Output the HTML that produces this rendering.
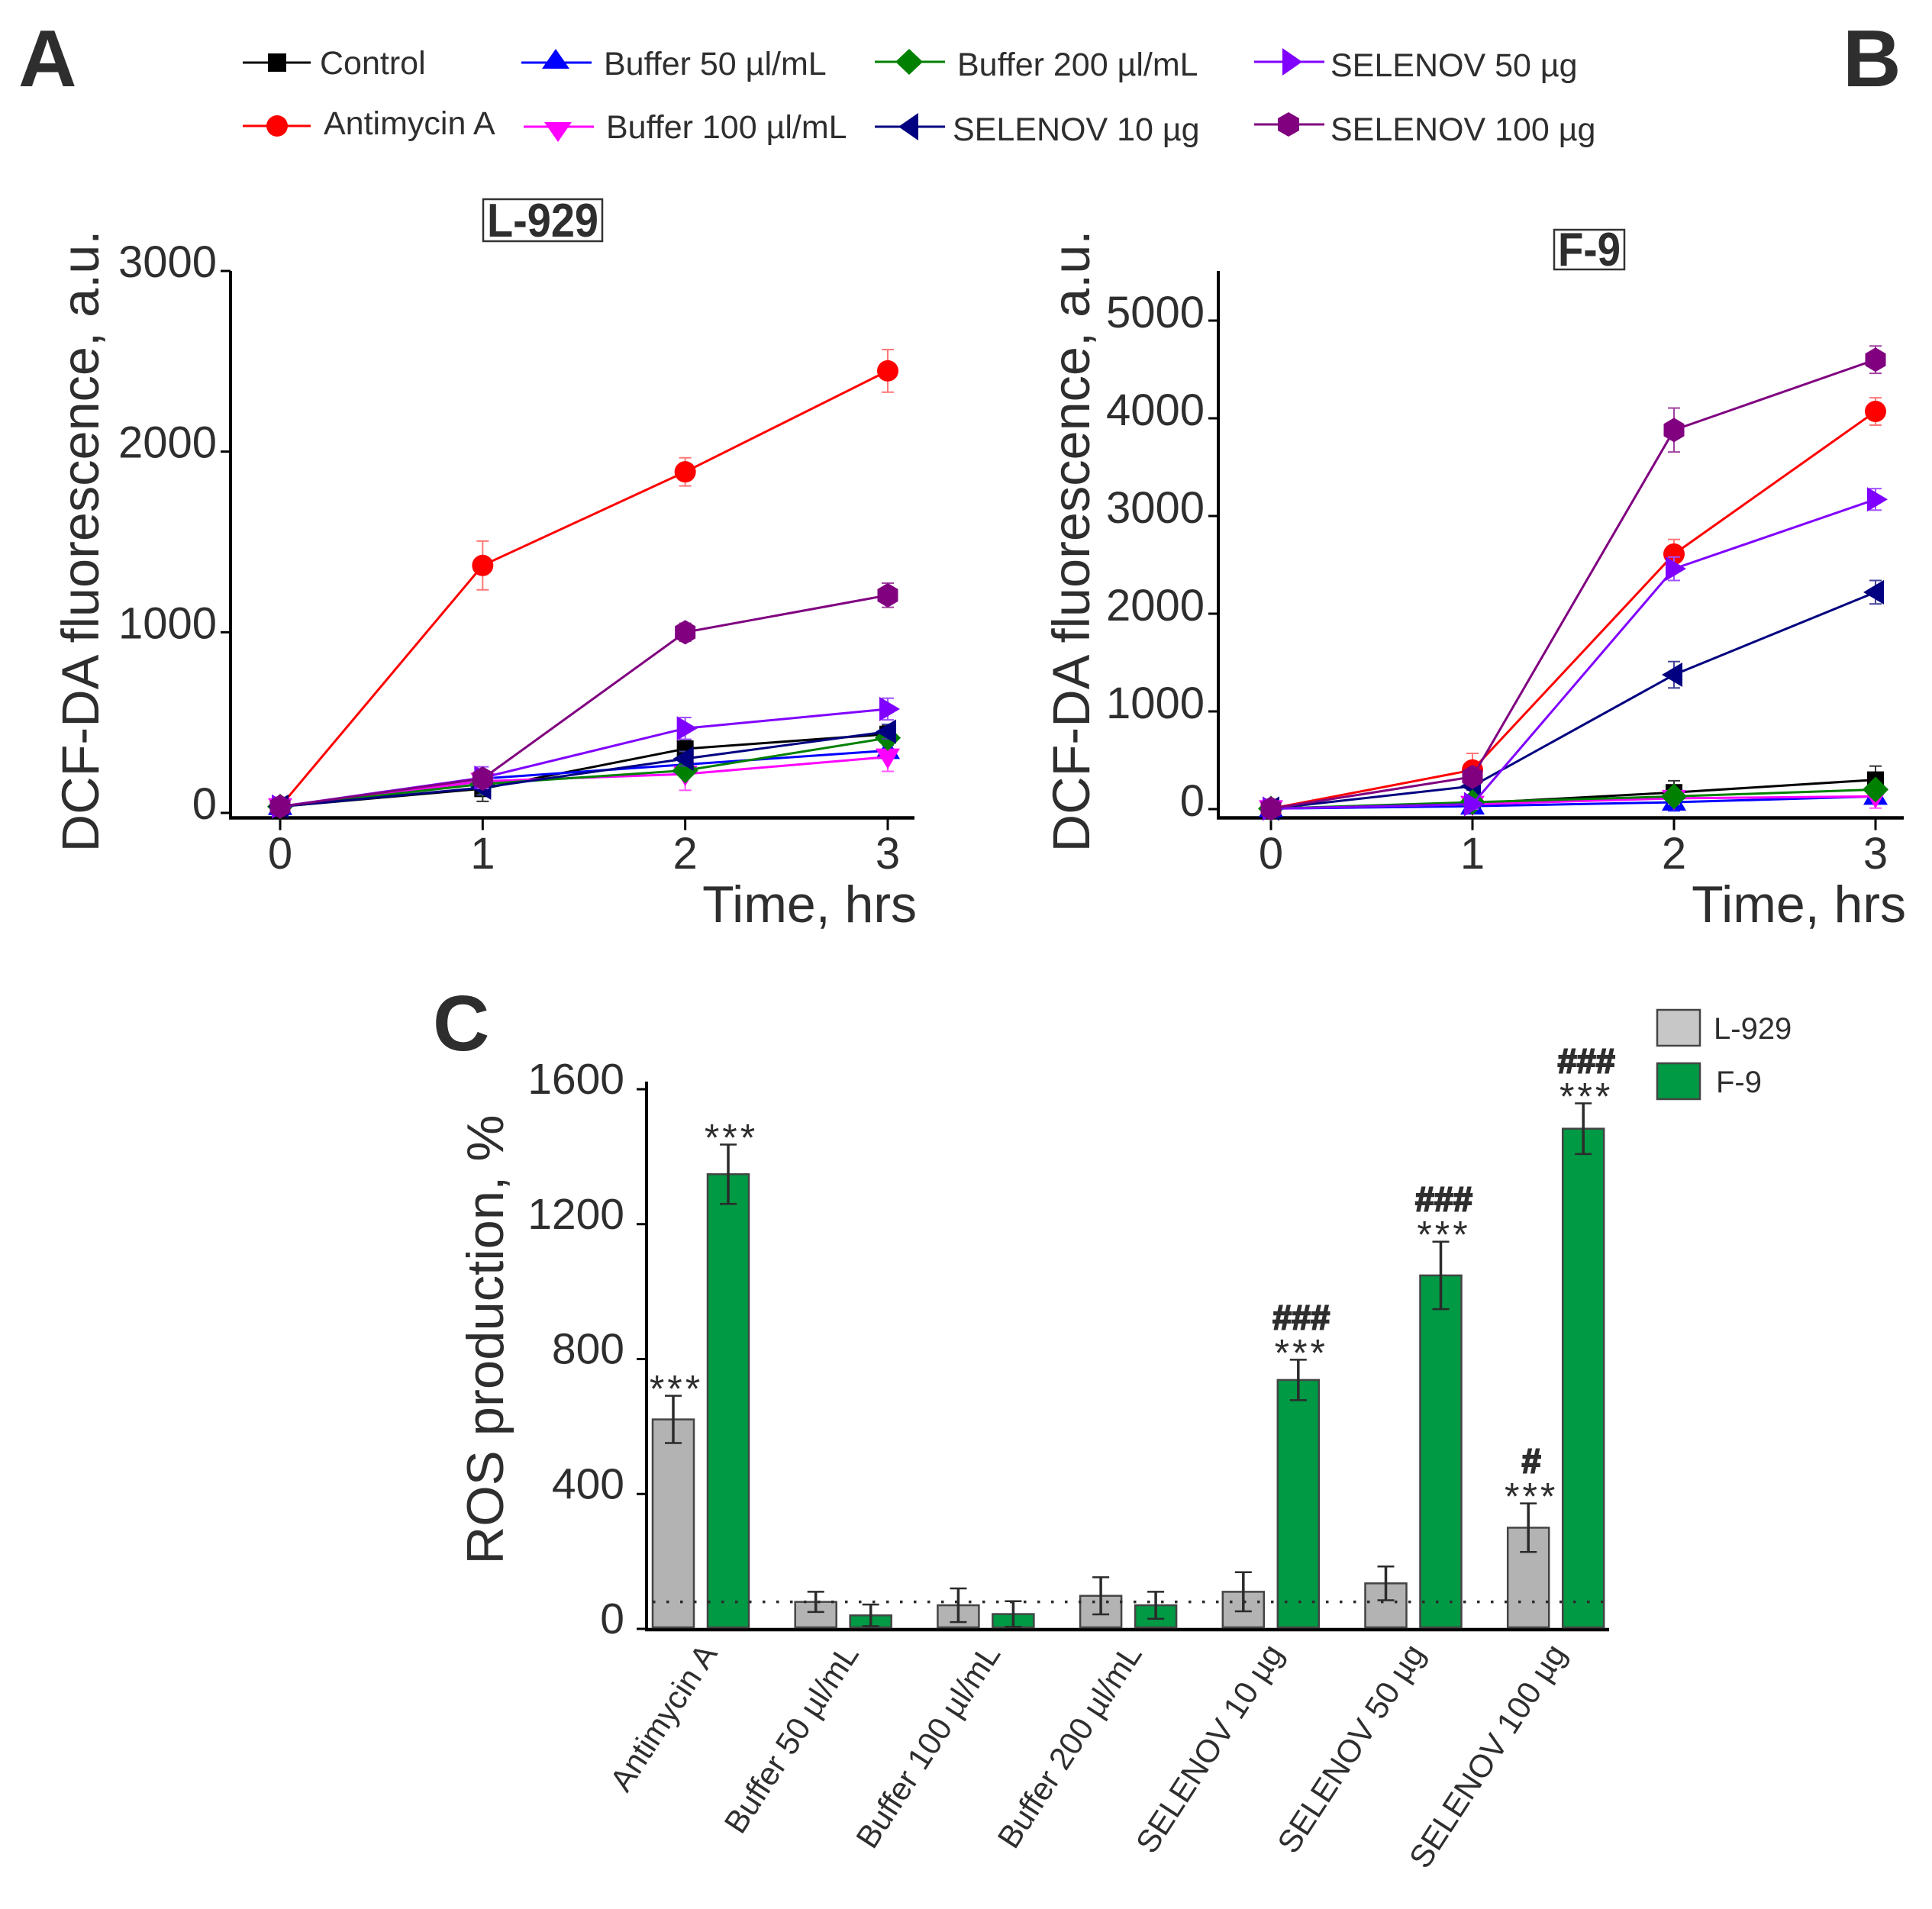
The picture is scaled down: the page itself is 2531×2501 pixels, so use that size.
<!DOCTYPE html>
<html lang="en">
<head>
<meta charset="utf-8">
<title>ROS production in L-929 and F-9 cells</title>
<style>
html,body{margin:0;padding:0;background:#fff;}
svg{display:block;}
text{font-family:"Liberation Sans",Arial,sans-serif;fill:#2e2e2e;}
</style>
</head>
<body>
<svg id="fig" xmlns="http://www.w3.org/2000/svg" width="2531" height="2501" viewBox="0 0 2531 2501">
  <text x="24" y="113" font-size="106" font-weight="bold">A</text>
  <text x="2414" y="113" font-size="106" font-weight="bold">B</text>
  <text x="567" y="1376" font-size="103" font-weight="bold">C</text>

  <g>
    <g>
      <line x1="318" y1="82" x2="407" y2="82" stroke="#000" stroke-width="3"/>
      <rect x="351" y="70" width="24" height="24" fill="#000"/>
      <text x="419" y="97" font-size="43">Control</text>
    </g>
    <g>
      <line x1="318" y1="165" x2="407" y2="165" stroke="#f00" stroke-width="3"/>
      <circle cx="363" cy="165" r="14" fill="#f00"/>
      <text x="424" y="176" font-size="43">Antimycin A</text>
    </g>
    <g>
      <line x1="683" y1="82" x2="775" y2="82" stroke="#00f" stroke-width="3"/>
      <polygon points="728,64 746,90 710,90" fill="#00f"/>
      <text x="791" y="98" font-size="43">Buffer 50 µl/mL</text>
    </g>
    <g>
      <line x1="686" y1="166" x2="778" y2="166" stroke="#f0f" stroke-width="3"/>
      <polygon points="731,186 749,160 713,160" fill="#f0f"/>
      <text x="794" y="181" font-size="43">Buffer 100 µl/mL</text>
    </g>
    <g>
      <line x1="1146" y1="81" x2="1238" y2="81" stroke="#008000" stroke-width="3"/>
      <polygon points="1191,64 1209,81 1191,98 1173,81" fill="#008000"/>
      <text x="1254" y="99" font-size="43">Buffer 200 µl/mL</text>
    </g>
    <g>
      <line x1="1146" y1="166" x2="1238" y2="166" stroke="#000080" stroke-width="3"/>
      <polygon points="1177,166 1203,148 1203,184" fill="#000080"/>
      <text x="1248" y="184" font-size="43">SELENOV 10 µg</text>
    </g>
    <g>
      <line x1="1643" y1="81" x2="1735" y2="81" stroke="#8000ff" stroke-width="3"/>
      <polygon points="1706,81 1680,63 1680,99" fill="#8000ff"/>
      <text x="1743" y="100" font-size="43">SELENOV 50 µg</text>
    </g>
    <g>
      <line x1="1643" y1="163" x2="1735" y2="163" stroke="#800080" stroke-width="3"/>
      <polygon points="1688,147 1702,155 1702,171 1688,179 1674,171 1674,155" fill="#800080"/>
      <text x="1743" y="184" font-size="43">SELENOV 100 µg</text>
    </g>
  </g>

  <g>
    <rect x="633" y="261" width="156" height="55" fill="#fff" stroke="#333" stroke-width="2.500"/>
    <text x="711" y="310" font-size="62" font-weight="bold" text-anchor="middle" textLength="146" lengthAdjust="spacingAndGlyphs">L-929</text>
  </g>
  <g>
    <rect x="2036" y="301" width="92" height="52" fill="#fff" stroke="#333" stroke-width="2.500"/>
    <text x="2082" y="348" font-size="62" font-weight="bold" text-anchor="middle" textLength="82" lengthAdjust="spacingAndGlyphs">F-9</text>
  </g>

  <text transform="translate(129 709) rotate(-90)" font-size="68.500" text-anchor="middle">DCF-DA fluorescence, a.u.</text>
  <text transform="translate(1427 709) rotate(-90)" font-size="68.500" text-anchor="middle">DCF-DA fluorescence, a.u.</text>
  <text x="1201" y="1208" font-size="68" text-anchor="end">Time, hrs</text>
  <text x="2497" y="1208" font-size="68" text-anchor="end">Time, hrs</text>
  <text transform="translate(659 1755) rotate(-90)" font-size="68" text-anchor="middle" textLength="589" lengthAdjust="spacingAndGlyphs">ROS production, %</text>

  <g>
    <g>
      <rect x="2171" y="1323" width="56" height="47" fill="#c6c7c6" stroke="#444" stroke-width="2.500"/>
      <text x="2245" y="1361" font-size="40">L-929</text>
    </g>
    <g>
      <rect x="2171" y="1393" width="56" height="47" fill="#009944" stroke="#444" stroke-width="2.500"/>
      <text x="2248" y="1431" font-size="40">F-9</text>
    </g>
  </g>
</svg>
<script>
// Shared time axis
const timeCategories = [0, 1, 2, 3];
const xTickLabels = ["0", "1", "2", "3"];
const yTicksA = [0, 1000, 2000, 3000];
const yTicksB = [0, 1000, 2000, 3000, 4000, 5000];
const yTicksC = [0, 400, 800, 1200, 1600];

// Panel A (L-929) means
const a_control   = [35, 134, 355, 436];
const a_antimycin = [35, 1370, 1888, 2447];
const a_buffer50  = [35, 190, 268, 345];
const a_buffer100 = [35, 175, 215, 310];
const a_buffer200 = [35, 160, 235, 415];
const a_selenov10 = [35, 140, 300, 450];
const a_selenov50 = [35, 195, 468, 575];
const a_selenov100 = [35, 190, 1000, 1205];
// Panel A errors
const aErr_control   = [20, 70, 50, 50];
const aErr_antimycin = [20, 135, 78, 118];
const aErr_buffer50  = [20, 30, 30, 30];
const aErr_buffer100 = [20, 30, 90, 80];
const aErr_buffer200 = [20, 30, 30, 30];
const aErr_selenov10 = [20, 40, 40, 40];
const aErr_selenov50 = [20, 60, 60, 60];
const aErr_selenov100 = [20, 40, 50, 67];

// Panel B (F-9) means
const b_control   = [5, 60, 170, 300];
const b_antimycin = [5, 400, 2610, 4070];
const b_buffer50  = [5, 30, 70, 130];
const b_buffer100 = [5, 50, 110, 130];
const b_buffer200 = [5, 70, 130, 200];
const b_selenov10 = [5, 235, 1375, 2220];
const b_selenov50 = [5, 50, 2460, 3170];
const b_selenov100 = [5, 330, 3880, 4600];
// Panel B errors
const bErr_control   = [10, 30, 120, 140];
const bErr_antimycin = [10, 170, 150, 140];
const bErr_buffer50  = [10, 30, 90, 60];
const bErr_buffer100 = [10, 50, 60, 120];
const bErr_buffer200 = [10, 30, 50, 50];
const bErr_selenov10 = [10, 40, 135, 120];
const bErr_selenov50 = [10, 50, 120, 110];
const bErr_selenov100 = [10, 50, 225, 140];

// Panel C
const barCategories = ["Antimycin A", "Buffer 50 µl/mL", "Buffer 100 µl/mL", "Buffer 200 µl/mL", "SELENOV 10 µg", "SELENOV 50 µg", "SELENOV 100 µg"];
const l929Values = [621, 80, 70, 98, 110, 135, 300];
const f9Values   = [1348, 40, 44, 70, 738, 1048, 1483];
const l929Errors = [70, 30, 50, 55, 58, 50, 72];
const f9Errors   = [88, 32, 38, 40, 60, 100, 75];
const l929Stars  = ["***", "", "", "", "", "", "***"];
const f9Stars    = ["***", "", "", "", "***", "***", "***"];
const l929Hashes = ["", "", "", "", "", "", "#"];
const f9Hashes   = ["", "", "", "", "###", "###", "###"];
const controlLevel = [80];

const NS = "http://www.w3.org/2000/svg";
const fig = document.getElementById("fig");
function mk(parent, tag, attrs, txt) {
  const el = document.createElementNS(NS, tag);
  for (const k in attrs) el.setAttribute(k, attrs[k]);
  if (txt !== undefined) el.textContent = txt;
  parent.appendChild(el);
  return el;
}

// Axis functions
function xA(t) { return 367 + t * (1163 - 367) / 3; }
function yA(v) { return 1065 - v * (1065 - 355) / 3000; }
function xB(t) { return 1665 + t * (2457 - 1665) / 3; }
function yB(v) { return 1060 - v * (1060 - 420) / 5000; }
function yC(v) { return 2134 - v * (2134 - 1427) / 1600; }
function xCGroup(i) { return 918 + i * 186.7; }

function markerPoints(shape, cx, cy) {
  if (shape === "up") return [[cx, cy - 16], [cx + 16, cy + 11], [cx - 16, cy + 11]];
  if (shape === "down") return [[cx, cy + 16], [cx + 16, cy - 11], [cx - 16, cy - 11]];
  if (shape === "left") return [[cx - 16, cy], [cx + 11, cy - 16], [cx + 11, cy + 16]];
  if (shape === "right") return [[cx + 16, cy], [cx - 11, cy - 16], [cx - 11, cy + 16]];
  if (shape === "diamond") return [[cx, cy - 17], [cx + 17, cy], [cx, cy + 17], [cx - 17, cy]];
  if (shape === "hexagon") return [[cx, cy - 16], [cx + 13.500, cy - 8], [cx + 13.500, cy + 8], [cx, cy + 16], [cx - 13.500, cy + 8], [cx - 13.500, cy - 8]];
  return [];
}

function drawMarker(g, shape, color, cx, cy) {
  if (shape === "square") return mk(g, "rect", { x: cx - 11, y: cy - 11, width: 22, height: 22, fill: color });
  if (shape === "circle") return mk(g, "circle", { cx: cx, cy: cy, r: 14, fill: color });
  return mk(g, "polygon", { points: markerPoints(shape, cx, cy).map(function (p) { return p.join(","); }).join(" "), fill: color });
}

function drawSeries(panel, name, values, errors, color, errColor, shape, xf, yf) {
  const g = mk(fig, "g", {});
  
  
  timeCategories.forEach(function (t, i) {
    const x = xf(t);
    mk(g, "line", { x1: x, x2: x, y1: yf(values[i] - errors[i]), y2: yf(values[i] + errors[i]), stroke: errColor, "stroke-width": 2 });
    mk(g, "line", { x1: x - 8, x2: x + 8, y1: yf(values[i] + errors[i]), y2: yf(values[i] + errors[i]), stroke: errColor, "stroke-width": 2 });
    mk(g, "line", { x1: x - 8, x2: x + 8, y1: yf(values[i] - errors[i]), y2: yf(values[i] - errors[i]), stroke: errColor, "stroke-width": 2 });
  });
  const pts = timeCategories.map(function (t, i) { return xf(t) + "," + yf(values[i]); }).join(" ");
  mk(g, "polyline", { points: pts, fill: "none", stroke: color, "stroke-width": 3 });
  timeCategories.forEach(function (t, i) {
    const m = drawMarker(g, shape, color, xf(t), yf(values[i]));
    
    
  });
}

function drawAxes(panel, axisX, topY, bottomY, rightX, xf, yf, yTicks, xTicks, labelEndX, xLabelY, fontSize, labelOffset) {
  const g = mk(fig, "g", {});
  
  
  const yAxis = mk(g, "line", { x1: axisX, x2: axisX, y1: topY, y2: bottomY + 2, stroke: "#000", "stroke-width": 4 });
  
  
  const xAxis = mk(g, "line", { x1: axisX - 2, x2: rightX, y1: bottomY, y2: bottomY, stroke: "#000", "stroke-width": 4.500 });
  
  
  yTicks.forEach(function (v) {
    mk(g, "line", { x1: axisX - 13, x2: axisX, y1: yf(v), y2: yf(v), stroke: "#000", "stroke-width": 3 });
    const lab = mk(g, "text", { x: labelEndX, y: yf(v) + labelOffset, "font-size": fontSize, "text-anchor": "end" }, String(v));
    
    
  });
  if (xTicks) {
    xTicks.forEach(function (t, i) {
      mk(g, "line", { x1: xf(t), x2: xf(t), y1: bottomY, y2: bottomY + 16, stroke: "#000", "stroke-width": 3 });
      const lab = mk(g, "text", { x: xf(t), y: xLabelY, "font-size": 58, "text-anchor": "middle" }, xTickLabels[i]);
      
      
    });
  }
}

drawAxes("panel-a", 302, 355, 1071.500, 1198, xA, yA, yTicksA, timeCategories, 284, 1138, 58, 8);
drawAxes("panel-b", 1596, 355, 1071.500, 2494, xB, yB, yTicksB, timeCategories, 1578, 1138, 58, 9);

drawSeries("panel-a", "control", a_control, aErr_control, "#000", "#333", "square", xA, yA);
drawSeries("panel-a", "antimycin-a", a_antimycin, aErr_antimycin, "#f00", "#f77", "circle", xA, yA);
drawSeries("panel-a", "buffer-50", a_buffer50, aErr_buffer50, "#00f", "#55f", "up", xA, yA);
drawSeries("panel-a", "buffer-100", a_buffer100, aErr_buffer100, "#f0f", "#f5f", "down", xA, yA);
drawSeries("panel-a", "buffer-200", a_buffer200, aErr_buffer200, "#008000", "#4a4", "diamond", xA, yA);
drawSeries("panel-a", "selenov-10", a_selenov10, aErr_selenov10, "#000080", "#449", "left", xA, yA);
drawSeries("panel-a", "selenov-50", a_selenov50, aErr_selenov50, "#8000ff", "#a050ff", "right", xA, yA);
drawSeries("panel-a", "selenov-100", a_selenov100, aErr_selenov100, "#800080", "#a040a0", "hexagon", xA, yA);

drawSeries("panel-b", "control", b_control, bErr_control, "#000", "#333", "square", xB, yB);
drawSeries("panel-b", "antimycin-a", b_antimycin, bErr_antimycin, "#f00", "#f77", "circle", xB, yB);
drawSeries("panel-b", "selenov-10", b_selenov10, bErr_selenov10, "#000080", "#449", "left", xB, yB);
drawSeries("panel-b", "buffer-50", b_buffer50, bErr_buffer50, "#00f", "#55f", "up", xB, yB);
drawSeries("panel-b", "buffer-100", b_buffer100, bErr_buffer100, "#f0f", "#f5f", "down", xB, yB);
drawSeries("panel-b", "buffer-200", b_buffer200, bErr_buffer200, "#008000", "#4a4", "diamond", xB, yB);
drawSeries("panel-b", "selenov-50", b_selenov50, bErr_selenov50, "#8000ff", "#a050ff", "right", xB, yB);
drawSeries("panel-b", "selenov-100", b_selenov100, bErr_selenov100, "#800080", "#a040a0", "hexagon", xB, yB);

// Panel C
drawAxes("panel-c", 847, 1417, 2135, 2108, null, yC, yTicksC, null, 818, 0, 57, 6);

function drawBar(name, values, errors, stars, hashes, i, cx, fill) {
  const v = values[i];
  const g = mk(fig, "g", {});
  
  
  mk(g, "rect", { x: cx - 27, y: yC(v), width: 54, height: yC(0) - yC(v) - 2, fill: fill, stroke: "#444", "stroke-width": 2.500 });
  const top = yC(v + errors[i]);
  const bottom = yC(v - errors[i]);
  mk(g, "line", { x1: cx, x2: cx, y1: top, y2: bottom, stroke: "#2b2b2b", "stroke-width": 3.500 });
  mk(g, "line", { x1: cx - 11, x2: cx + 11, y1: top, y2: top, stroke: "#2b2b2b", "stroke-width": 2.500 });
  mk(g, "line", { x1: cx - 11, x2: cx + 11, y1: bottom, y2: bottom, stroke: "#2b2b2b", "stroke-width": 2.500 });
  if (stars[i]) {
    const s = mk(g, "text", { x: cx + 4, y: top + 8, "font-size": 50, "letter-spacing": 4, "text-anchor": "middle" }, stars[i]);
    
    
  }
  if (hashes[i]) {
    const h = mk(g, "text", { x: cx + 4, y: top - 40, "font-size": 45, "font-weight": "bold", "text-anchor": "middle", stroke: "#2e2e2e", "stroke-width": 2 }, hashes[i]);
    
    
  }
}

barCategories.forEach(function (cat, i) {
  const c = xCGroup(i);
  drawBar("l929-" + i, l929Values, l929Errors, l929Stars, l929Hashes, i, c - 36, "#b2b3b2");
  drawBar("f9-" + i, f9Values, f9Errors, f9Stars, f9Hashes, i, c + 36, "#009944");
  const lab = mk(fig, "text", { transform: "translate(" + (c + 23 - i * 1.3) + " 2166) rotate(-57)", "font-size": 42, "text-anchor": "end" }, cat);
  
  
});

const dotted = mk(fig, "line", { x1: 855, x2: 2108, y1: yC(controlLevel[0]), y2: yC(controlLevel[0]), stroke: "#2b2b2b", "stroke-width": 3.500, "stroke-dasharray": "3.500 14.500" });


</script>
</body>
</html>
